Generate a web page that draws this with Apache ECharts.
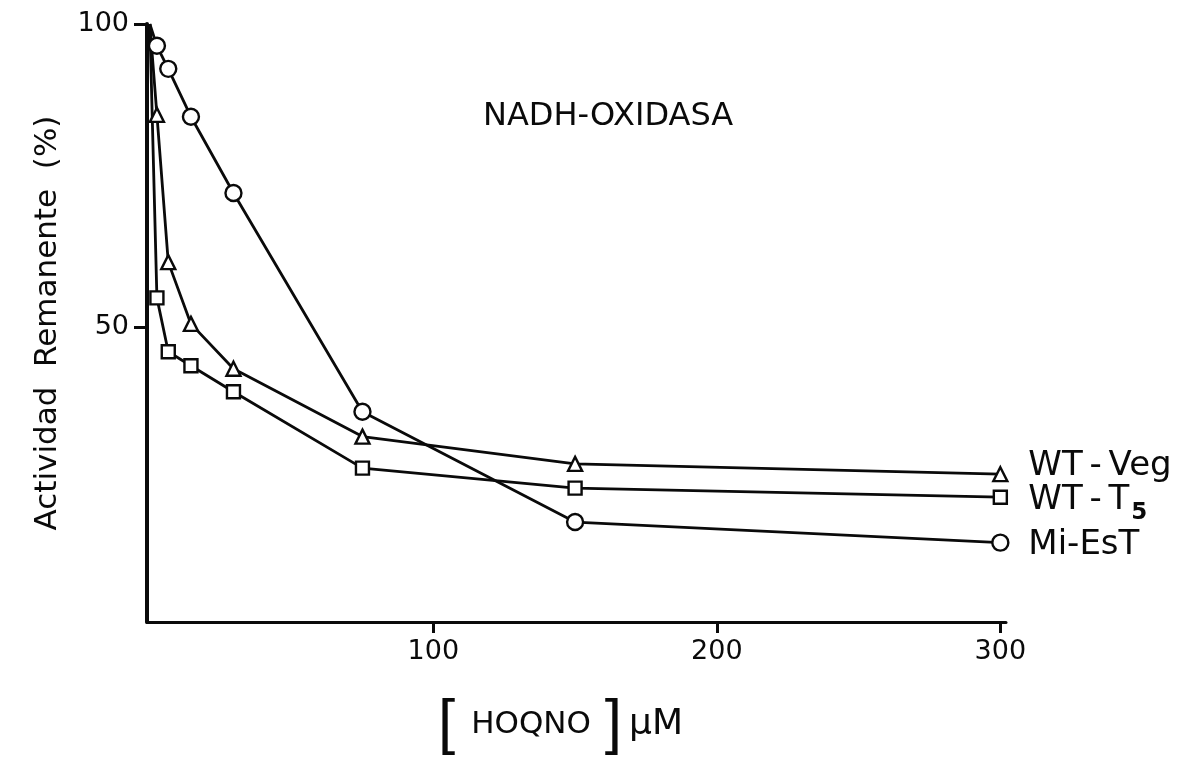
<!DOCTYPE html>
<html><head><meta charset="utf-8">
<script src="https://cdn.jsdelivr.net/npm/echarts@6/dist/echarts.min.js"></script>
<style>html,body{margin:0;padding:0;background:#fff}#c{width:1180px;height:758px}</style>
</head><body><div id="c"></div><script>
// HOQNO concentration (µM); first entry is the 100 % starting point
const concentrations = [0, 2.5, 6.5, 14.5, 29.5, 75, 150, 300];
const wtVeg = [100, 85.0, 60.7, 50.5, 43.1, 31.9, 27.4, 25.7];
const wtT5  = [100, 54.8, 45.9, 43.6, 39.3, 26.7, 23.4, 21.9];
const miEst = [100, 96.4, 92.6, 84.7, 72.1, 36.0, 17.8, 14.4];
const seriesNames = ['WT-Veg', 'WT-T5', 'Mi-EsT'];
const xTickValues = [100, 200, 300];
const yTickValues = [50, 100];
const chartTitle = 'NADH-OXIDASA';
const yAxisTitle = 'Actividad  Remanente  (%)';

const FONT = 'DejaVu Sans';
const INK = '#0a0a0a';

function toData(values) {
  return concentrations.map((x, i) =>
    i === 0 ? { value: [x, values[i]], symbol: 'none' } : [x, values[i]]);
}

function makeSeries(name, values, symbol, symbolSize, labelOffset, formatter) {
  return {
    name: name,
    type: 'line',
    data: toData(values),
    symbol: symbol,
    symbolSize: symbolSize,
    showAllSymbol: true,
    clip: false,
    lineStyle: { color: INK, width: 2.8 },
    itemStyle: { color: '#fff', borderColor: INK, borderWidth: 2.4 },
    emphasis: { disabled: true },
    z: 3,
    endLabel: {
      show: true,
      distance: 28,
      offset: labelOffset,
      formatter: formatter,
      color: INK,
      fontFamily: FONT,
      fontSize: 34,
      rich: {
        a: { fontFamily: FONT, fontSize: 34, color: INK },
        s: { fontFamily: FONT, fontSize: 23, fontWeight: 'bold', color: INK, padding: [26, 0, 0, 2] }
      }
    }
  };
}

const chart = echarts.init(document.getElementById('c'), null, { renderer: 'canvas' });
chart.setOption({
  animation: false,
  backgroundColor: '#fff',
  grid: { left: 147, right: 174, top: 24, bottom: 136, containLabel: false, outerBoundsMode: 'none' },
  xAxis: {
    type: 'value',
    min: -1,
    max: 302,
    splitLine: { show: false },
    axisLine: { show: true, onZero: false, lineStyle: { color: INK, width: 3 } },
    axisTick: { show: true, inside: false, length: 11, customValues: xTickValues, lineStyle: { color: INK, width: 3 } },
    axisLabel: { show: true, margin: 16, customValues: xTickValues, color: INK, fontFamily: FONT, fontSize: 27 },
    name: '{lb|[}{t|HOQNO}{rb|]}{u|μM}',
    nameLocation: 'middle',
    nameGap: 68,
    nameTextStyle: {
      padding: [0, 32, 0, 0],
      rich: {
        lb: { fontFamily: 'Liberation Sans', fontSize: 62, lineHeight: 70, verticalAlign: 'middle', color: INK, padding: [0, 16, 0, 0] },
        rb: { fontFamily: 'Liberation Sans', fontSize: 62, lineHeight: 70, verticalAlign: 'middle', color: INK, padding: [0, 7, 0, 14] },
        t: { fontFamily: FONT, fontSize: 31, lineHeight: 70, verticalAlign: 'middle', color: INK },
        u: { fontFamily: FONT, fontSize: 36, lineHeight: 70, verticalAlign: 'middle', color: INK }
      }
    }
  },
  yAxis: {
    type: 'value',
    min: 1.3,
    max: 100,
    splitLine: { show: false },
    axisLine: { show: true, onZero: false, lineStyle: { color: INK, width: 4 } },
    axisTick: { show: true, inside: false, length: 13, customValues: yTickValues, lineStyle: { color: INK, width: 3 } },
    axisLabel: { show: true, margin: 18, customValues: yTickValues, color: INK, fontFamily: FONT, fontSize: 27 },
    name: yAxisTitle,
    nameLocation: 'middle',
    nameRotate: 90,
    nameGap: 84,
    nameTextStyle: { color: INK, fontFamily: FONT, fontSize: 31 }
  },
  graphic: [{
    type: 'text',
    left: 483,
    top: 101,
    style: { text: chartTitle, fill: INK, font: '32px "' + FONT + '"' }
  }],
  series: [
    makeSeries(seriesNames[0], wtVeg, 'triangle', 14, [0, -8], '{a|WT\u2009-\u2009Veg}'),
    makeSeries(seriesNames[1], wtT5, 'rect', 13, [0, 3], '{a|WT\u2009-\u2009T}{s|5}'),
    makeSeries(seriesNames[2], miEst, 'circle', 16, [0, 3], '{a|Mi-EsT}')
  ]
});
</script></body></html>
